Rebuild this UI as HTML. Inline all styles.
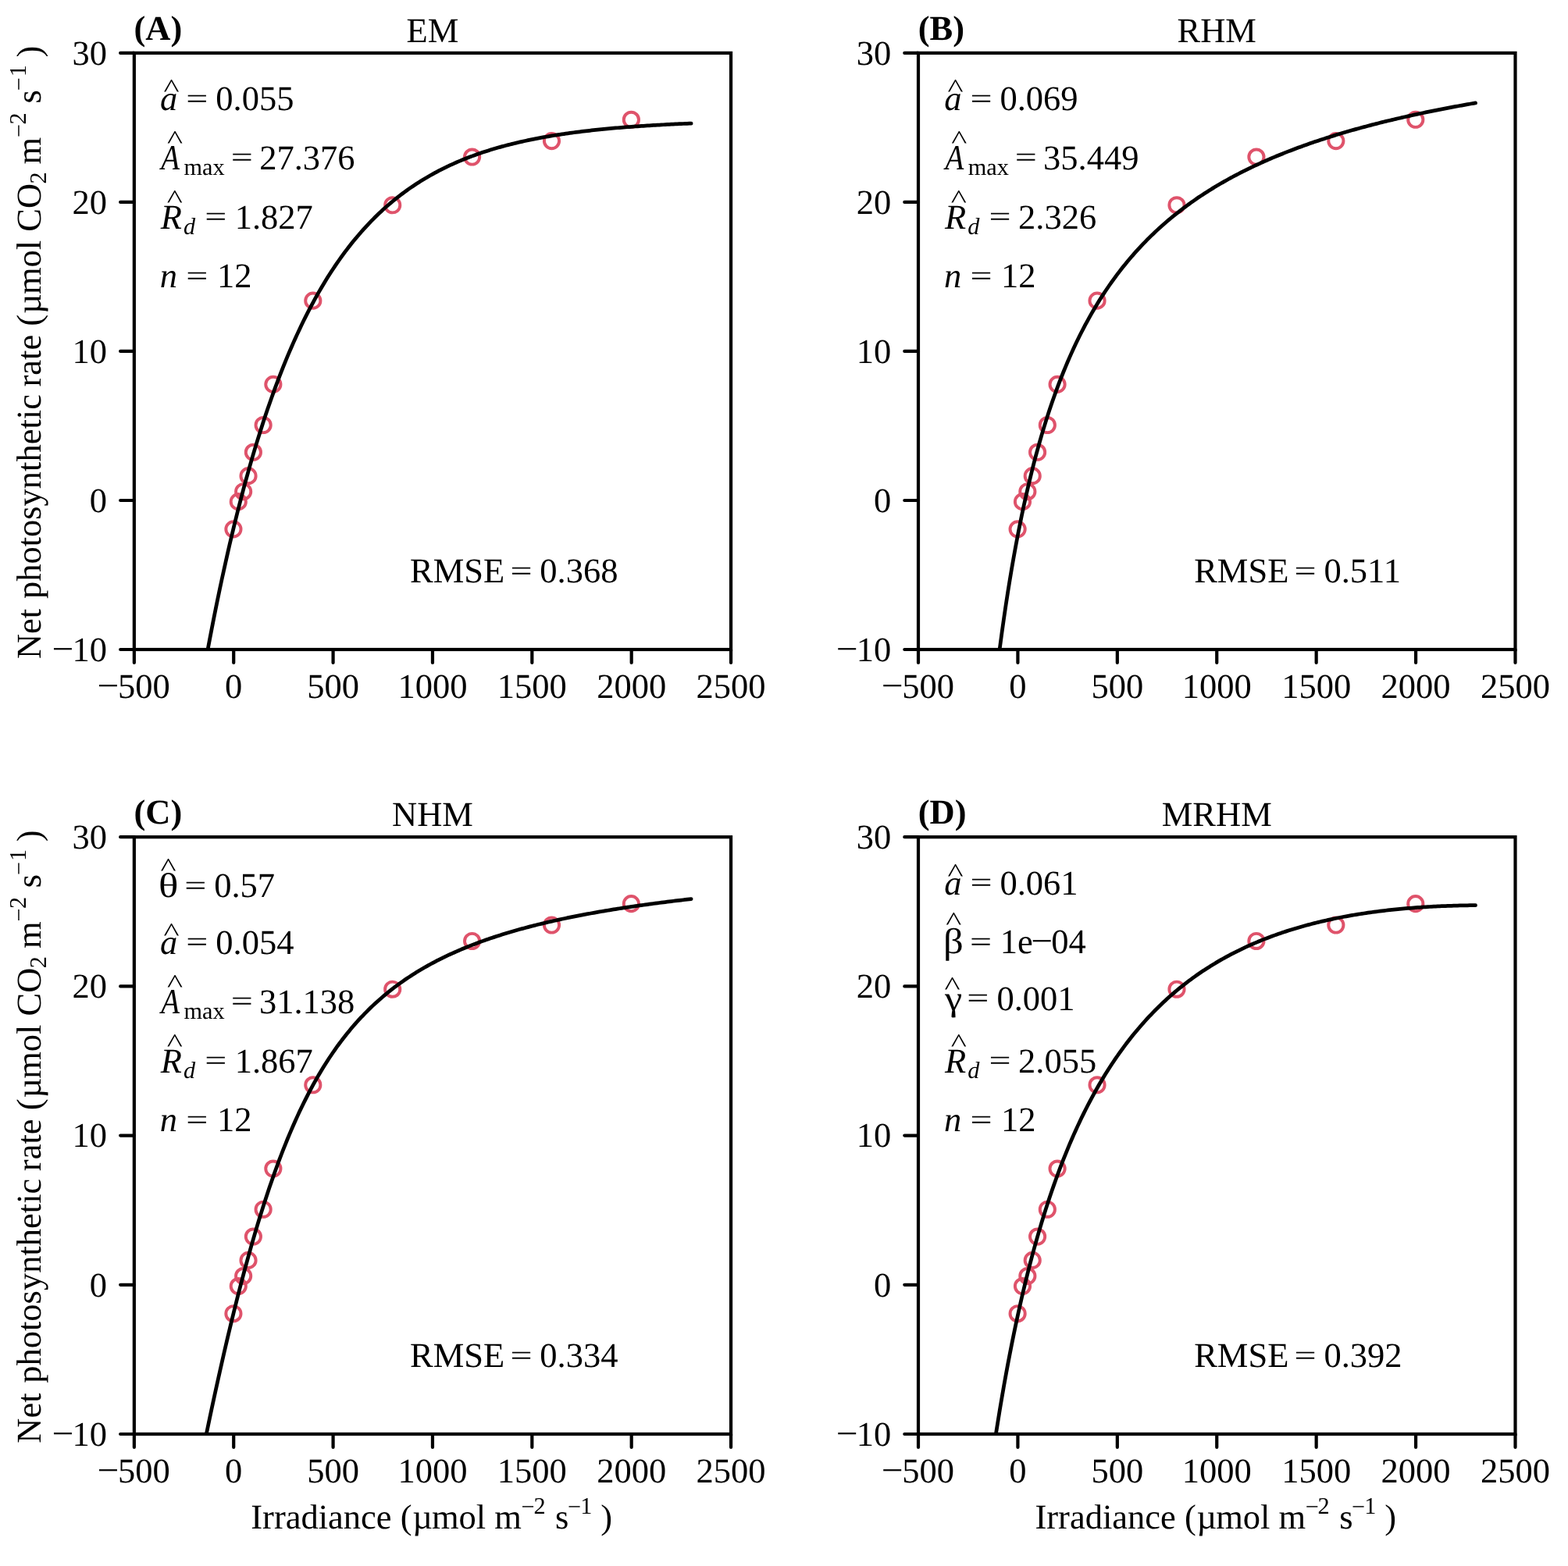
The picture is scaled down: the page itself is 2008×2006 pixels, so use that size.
<!DOCTYPE html>
<html lang="en"><head><meta charset="utf-8"><title>Light response curve models</title>
<style>html,body{margin:0;padding:0;background:#fff}body{width:2008px;height:2006px;overflow:hidden}svg{display:block}
text{font-family:"Liberation Serif","DejaVu Serif",serif;font-size:44.5px;fill:#000;white-space:pre;text-rendering:geometricPrecision}
.i{font-style:italic}.b{font-weight:bold}.s{font-size:30.3px}
.l{fill:none;stroke:#000;stroke-width:4.2}.t{stroke-linecap:round}
.c{fill:none;stroke:#000;stroke-width:4.75;stroke-linejoin:round;stroke-linecap:round}
.p{fill:none;stroke:#DF536B;stroke-width:3.95}
</style></head><body>
<svg role="img" aria-label="Light response curves fitted with four photosynthesis models" width="2008" height="2006" viewBox="0 0 2008 2006">
<rect width="2008" height="2006" fill="#fff"/>
<g>
<clipPath id="clip00"><rect x="171.85" y="67.9" width="764.2" height="764.1"/></clipPath>
<circle class="p" cx="298.92" cy="677.84" r="9.6"/>
<circle class="p" cx="305.28" cy="642.69" r="9.6"/>
<circle class="p" cx="311.65" cy="629.7" r="9.6"/>
<circle class="p" cx="318.02" cy="609.65" r="9.6"/>
<circle class="p" cx="324.39" cy="579.27" r="9.6"/>
<circle class="p" cx="337.13" cy="544.51" r="9.6"/>
<circle class="p" cx="349.86" cy="492.36" r="9.6"/>
<circle class="p" cx="400.81" cy="385.19" r="9.6"/>
<circle class="p" cx="502.7" cy="262.75" r="9.6"/>
<circle class="p" cx="604.6" cy="201.04" r="9.6"/>
<circle class="p" cx="706.49" cy="180.6" r="9.6"/>
<circle class="p" cx="808.38" cy="153.29" r="9.6"/>
<polyline class="c" clip-path="url(#clip00)" points="248.27,934.49 250.82,918.94 253.36,903.71 255.91,888.77 258.46,874.14 261.01,859.79 263.55,845.73 266.1,831.95 268.65,818.45 271.2,805.21 273.74,792.24 276.29,779.52 278.84,767.06 281.39,754.84 283.93,742.87 286.48,731.14 289.03,719.64 291.57,708.36 294.12,697.32 296.67,686.49 299.22,675.88 301.76,665.47 304.31,655.28 306.86,645.29 309.41,635.49 311.95,625.9 314.5,616.49 317.05,607.27 319.6,598.23 322.14,589.37 324.69,580.69 327.24,572.18 329.78,563.85 332.33,555.67 334.88,547.66 337.43,539.81 339.97,532.11 342.52,524.57 345.07,517.18 347.62,509.94 350.16,502.83 352.71,495.87 355.26,489.05 357.81,482.37 360.35,475.82 362.9,469.39 365.45,463.1 367.99,456.93 370.54,450.88 373.09,444.96 375.64,439.15 378.18,433.45 380.73,427.87 383.28,422.41 385.83,417.05 388.37,411.79 390.92,406.64 393.47,401.6 396.02,396.65 398.56,391.8 401.11,387.05 403.66,382.4 406.2,377.83 408.75,373.36 411.3,368.97 413.85,364.68 416.39,360.46 418.94,356.34 421.49,352.29 424.04,348.32 426.58,344.44 429.13,340.63 431.68,336.9 434.23,333.24 436.77,329.65 439.32,326.14 441.87,322.69 444.41,319.31 446.96,316 449.51,312.76 452.06,309.58 454.6,306.47 457.15,303.41 459.7,300.42 462.25,297.48 464.79,294.61 467.34,291.79 469.89,289.03 472.44,286.32 474.98,283.67 477.53,281.07 480.08,278.52 482.62,276.02 485.17,273.57 487.72,271.17 490.27,268.82 492.81,266.52 495.36,264.26 497.91,262.04 500.46,259.87 503,257.74 505.55,255.66 508.1,253.62 510.65,251.61 513.19,249.65 515.74,247.73 518.29,245.84 520.83,243.99 523.38,242.18 525.93,240.41 528.48,238.67 531.02,236.96 533.57,235.29 536.12,233.65 538.67,232.05 541.21,230.47 543.76,228.93 546.31,227.42 548.86,225.94 551.4,224.48 553.95,223.06 556.5,221.67 559.04,220.3 561.59,218.96 564.14,217.64 566.69,216.36 569.23,215.1 571.78,213.86 574.33,212.65 576.88,211.46 579.42,210.3 581.97,209.15 584.52,208.04 587.07,206.94 589.61,205.87 592.16,204.81 594.71,203.78 597.25,202.77 599.8,201.78 602.35,200.81 604.9,199.85 607.44,198.92 609.99,198.01 612.54,197.11 615.09,196.23 617.63,195.37 620.18,194.52 622.73,193.7 625.28,192.89 627.82,192.09 630.37,191.31 632.92,190.55 635.46,189.8 638.01,189.07 640.56,188.35 643.11,187.64 645.65,186.95 648.2,186.28 650.75,185.61 653.3,184.96 655.84,184.33 658.39,183.7 660.94,183.09 663.49,182.49 666.03,181.9 668.58,181.32 671.13,180.76 673.67,180.21 676.22,179.66 678.77,179.13 681.32,178.61 683.86,178.1 686.41,177.6 688.96,177.11 691.51,176.63 694.05,176.16 696.6,175.69 699.15,175.24 701.7,174.8 704.24,174.36 706.79,173.94 709.34,173.52 711.88,173.11 714.43,172.71 716.98,172.31 719.53,171.93 722.07,171.55 724.62,171.18 727.17,170.82 729.72,170.46 732.26,170.11 734.81,169.77 737.36,169.43 739.91,169.11 742.45,168.78 745,168.47 747.55,168.16 750.09,167.86 752.64,167.56 755.19,167.27 757.74,166.98 760.28,166.7 762.83,166.43 765.38,166.16 767.93,165.9 770.47,165.64 773.02,165.39 775.57,165.14 778.12,164.9 780.66,164.66 783.21,164.42 785.76,164.2 788.3,163.97 790.85,163.75 793.4,163.54 795.95,163.33 798.49,163.12 801.04,162.92 803.59,162.72 806.14,162.52 808.68,162.33 811.23,162.14 813.78,161.96 816.33,161.78 818.87,161.61 821.42,161.43 823.97,161.26 826.51,161.1 829.06,160.93 831.61,160.78 834.16,160.62 836.7,160.47 839.25,160.32 841.8,160.17 844.35,160.03 846.89,159.88 849.44,159.75 851.99,159.61 854.54,159.48 857.08,159.35 859.63,159.22 862.18,159.09 864.72,158.97 867.27,158.85 869.82,158.73 872.37,158.62 874.91,158.5 877.46,158.39 880.01,158.28 882.56,158.18 885.1,158.07"/>
<rect class="l" x="171.85" y="67.9" width="764.2" height="764.1"/>
<path class="l t" d="M171.85 832v17M299.22 832v17M426.58 832v17M553.95 832v17M681.32 832v17M808.68 832v17M936.05 832v17M171.85 832h-17.7M171.85 640.98h-17.7M171.85 449.95h-17.7M171.85 258.92h-17.7M171.85 67.9h-17.7"/>
<text transform="translate(124.55 893.3) scale(1.11 1)">−</text>
<text x="151.02" y="893.8">500</text>
<text x="299.22" y="893.8" text-anchor="middle">0</text>
<text x="426.58" y="893.8" text-anchor="middle">500</text>
<text x="553.95" y="893.8" text-anchor="middle">1000</text>
<text x="681.32" y="893.8" text-anchor="middle">1500</text>
<text x="808.68" y="893.8" text-anchor="middle">2000</text>
<text x="936.05" y="893.8" text-anchor="middle">2500</text>
<text transform="translate(66.52 846.2) scale(1.11 1)">−</text>
<text x="137" y="846.7" text-anchor="end">10</text>
<text x="137" y="655.68" text-anchor="end">0</text>
<text x="137" y="464.65" text-anchor="end">10</text>
<text x="137" y="273.62" text-anchor="end">20</text>
<text x="137" y="82.6" text-anchor="end">30</text>
<text x="553.95" y="53.9" text-anchor="middle">EM</text>
<text x="171.55" y="51.1" class="b">(A)</text>
<text x="205.07" y="141.21" class="i">a</text>
<text transform="translate(209.4 124.46) scale(0.961 0.76)">^</text>
<text transform="translate(238.31 137.65) scale(1.12 0.8)">=</text>
<text x="276.31" y="141.21">0.055</text>
<text class="i" transform="translate(206.25 216.82) scale(0.875 1.02)">A</text>
<text transform="translate(214 190.07) scale(0.961 0.76)">^</text>
<text x="235.5" y="223.82" class="s">max</text>
<text transform="translate(295.71 213.26) scale(1.12 0.8)">=</text>
<text x="332.14" y="216.82">27.376</text>
<text x="205.8" y="292.93" class="i">R</text>
<text transform="translate(213.7 266.38) scale(0.961 0.76)">^</text>
<text x="235" y="299.93" class="s i">d</text>
<text transform="translate(262.31 289.37) scale(1.12 0.8)">=</text>
<text x="300.68" y="292.93">1.827</text>
<text x="204.8" y="368.14" class="i">n</text>
<text transform="translate(238.31 364.58) scale(1.12 0.8)">=</text>
<text x="277.88" y="368.14">12</text>
<text x="525" y="746.1">RMSE</text>
<text transform="translate(653.41 742.55) scale(1.12 0.8)">=</text>
<text x="691.31" y="746.1">0.368</text>
<g transform="translate(52 844.1) rotate(-90)">
<text x="0" y="0">Net</text>
<text x="77" y="0">photosynthetic</text>
<text x="348.6" y="0">rate (</text>
<text x="442.2" y="0">µ</text>
<text x="467" y="0">mol CO</text>
<text x="608.5" y="7" class="s">2</text>
<text x="633.7" y="0">m</text>
<text x="668.2" y="-18.1" class="s">−</text>
<text x="684.7" y="-18.9" class="s">2</text>
<text x="711.5" y="0">s</text>
<text x="727.8" y="-18.1" class="s">−</text>
<text x="745.8" y="-18.9" class="s">1</text>
<text x="770.5" y="0">)</text>
</g>
</g>
<g>
<clipPath id="clip10"><rect x="1176" y="67.9" width="764.5" height="764.1"/></clipPath>
<circle class="p" cx="1303.12" cy="677.84" r="9.6"/>
<circle class="p" cx="1309.49" cy="642.69" r="9.6"/>
<circle class="p" cx="1315.86" cy="629.7" r="9.6"/>
<circle class="p" cx="1322.23" cy="609.65" r="9.6"/>
<circle class="p" cx="1328.6" cy="579.27" r="9.6"/>
<circle class="p" cx="1341.34" cy="544.51" r="9.6"/>
<circle class="p" cx="1354.08" cy="492.36" r="9.6"/>
<circle class="p" cx="1405.05" cy="385.19" r="9.6"/>
<circle class="p" cx="1506.98" cy="262.75" r="9.6"/>
<circle class="p" cx="1608.92" cy="201.04" r="9.6"/>
<circle class="p" cx="1710.85" cy="180.6" r="9.6"/>
<circle class="p" cx="1812.78" cy="153.29" r="9.6"/>
<polyline class="c" clip-path="url(#clip10)" points="1252.45,1117.06 1255,1082.81 1257.55,1050.62 1260.1,1020.29 1262.64,991.68 1265.19,964.65 1267.74,939.06 1270.29,914.8 1272.84,891.78 1275.38,869.9 1277.93,849.07 1280.48,829.23 1283.03,810.3 1285.58,792.23 1288.13,774.95 1290.67,758.42 1293.22,742.58 1295.77,727.4 1298.32,712.84 1300.87,698.85 1303.42,685.41 1305.96,672.48 1308.51,660.03 1311.06,648.05 1313.61,636.49 1316.16,625.35 1318.71,614.59 1321.26,604.21 1323.8,594.17 1326.35,584.46 1328.9,575.08 1331.45,565.99 1334,557.19 1336.55,548.66 1339.09,540.39 1341.64,532.38 1344.19,524.6 1346.74,517.05 1349.29,509.71 1351.84,502.59 1354.38,495.66 1356.93,488.93 1359.48,482.37 1362.03,476 1364.58,469.79 1367.12,463.75 1369.67,457.86 1372.22,452.13 1374.77,446.53 1377.32,441.08 1379.87,435.76 1382.41,430.57 1384.96,425.51 1387.51,420.56 1390.06,415.73 1392.61,411.01 1395.16,406.41 1397.7,401.9 1400.25,397.5 1402.8,393.19 1405.35,388.98 1407.9,384.85 1410.45,380.82 1412.99,376.87 1415.54,373.01 1418.09,369.22 1420.64,365.52 1423.19,361.88 1425.74,358.33 1428.29,354.84 1430.83,351.42 1433.38,348.07 1435.93,344.78 1438.48,341.56 1441.03,338.39 1443.58,335.29 1446.12,332.24 1448.67,329.25 1451.22,326.32 1453.77,323.44 1456.32,320.61 1458.87,317.83 1461.41,315.1 1463.96,312.41 1466.51,309.78 1469.06,307.19 1471.61,304.64 1474.15,302.13 1476.7,299.67 1479.25,297.25 1481.8,294.87 1484.35,292.53 1486.9,290.22 1489.44,287.96 1491.99,285.73 1494.54,283.53 1497.09,281.37 1499.64,279.24 1502.19,277.15 1504.74,275.08 1507.28,273.05 1509.83,271.05 1512.38,269.08 1514.93,267.14 1517.48,265.23 1520.03,263.34 1522.57,261.49 1525.12,259.66 1527.67,257.85 1530.22,256.08 1532.77,254.32 1535.32,252.59 1537.86,250.89 1540.41,249.21 1542.96,247.55 1545.51,245.92 1548.06,244.3 1550.61,242.71 1553.15,241.14 1555.7,239.59 1558.25,238.07 1560.8,236.56 1563.35,235.07 1565.89,233.6 1568.44,232.15 1570.99,230.72 1573.54,229.3 1576.09,227.91 1578.64,226.53 1581.18,225.17 1583.73,223.82 1586.28,222.5 1588.83,221.19 1591.38,219.89 1593.93,218.61 1596.47,217.35 1599.02,216.1 1601.57,214.86 1604.12,213.64 1606.67,212.44 1609.22,211.25 1611.76,210.07 1614.31,208.9 1616.86,207.75 1619.41,206.61 1621.96,205.49 1624.51,204.38 1627.05,203.28 1629.6,202.19 1632.15,201.12 1634.7,200.05 1637.25,199 1639.8,197.96 1642.35,196.93 1644.89,195.91 1647.44,194.91 1649.99,193.91 1652.54,192.93 1655.09,191.95 1657.63,190.98 1660.18,190.03 1662.73,189.09 1665.28,188.15 1667.83,187.22 1670.38,186.31 1672.92,185.4 1675.47,184.5 1678.02,183.62 1680.57,182.74 1683.12,181.86 1685.67,181 1688.22,180.15 1690.76,179.3 1693.31,178.47 1695.86,177.64 1698.41,176.82 1700.96,176 1703.51,175.2 1706.05,174.4 1708.6,173.61 1711.15,172.83 1713.7,172.05 1716.25,171.29 1718.8,170.53 1721.34,169.77 1723.89,169.03 1726.44,168.29 1728.99,167.55 1731.54,166.83 1734.09,166.11 1736.63,165.39 1739.18,164.69 1741.73,163.99 1744.28,163.29 1746.83,162.61 1749.38,161.92 1751.92,161.25 1754.47,160.58 1757.02,159.91 1759.57,159.26 1762.12,158.6 1764.66,157.96 1767.21,157.31 1769.76,156.68 1772.31,156.05 1774.86,155.42 1777.41,154.8 1779.95,154.19 1782.5,153.58 1785.05,152.97 1787.6,152.37 1790.15,151.78 1792.7,151.19 1795.24,150.6 1797.79,150.02 1800.34,149.45 1802.89,148.88 1805.44,148.31 1807.99,147.75 1810.53,147.19 1813.08,146.64 1815.63,146.09 1818.18,145.55 1820.73,145.01 1823.28,144.47 1825.82,143.94 1828.37,143.41 1830.92,142.89 1833.47,142.37 1836.02,141.86 1838.57,141.34 1841.12,140.84 1843.66,140.33 1846.21,139.83 1848.76,139.34 1851.31,138.85 1853.86,138.36 1856.4,137.87 1858.95,137.39 1861.5,136.91 1864.05,136.44 1866.6,135.97 1869.15,135.5 1871.7,135.04 1874.24,134.58 1876.79,134.12 1879.34,133.67 1881.89,133.22 1884.44,132.77 1886.99,132.33 1889.53,131.88"/>
<rect class="l" x="1176" y="67.9" width="764.5" height="764.1"/>
<path class="l t" d="M1176 832v17M1303.42 832v17M1430.83 832v17M1558.25 832v17M1685.67 832v17M1813.08 832v17M1940.5 832v17M1176 832h-17.7M1176 640.98h-17.7M1176 449.95h-17.7M1176 258.92h-17.7M1176 67.9h-17.7"/>
<text transform="translate(1128.7 893.3) scale(1.11 1)">−</text>
<text x="1155.17" y="893.8">500</text>
<text x="1303.42" y="893.8" text-anchor="middle">0</text>
<text x="1430.83" y="893.8" text-anchor="middle">500</text>
<text x="1558.25" y="893.8" text-anchor="middle">1000</text>
<text x="1685.67" y="893.8" text-anchor="middle">1500</text>
<text x="1813.08" y="893.8" text-anchor="middle">2000</text>
<text x="1940.5" y="893.8" text-anchor="middle">2500</text>
<text transform="translate(1070.67 846.2) scale(1.11 1)">−</text>
<text x="1141.15" y="846.7" text-anchor="end">10</text>
<text x="1141.15" y="655.68" text-anchor="end">0</text>
<text x="1141.15" y="464.65" text-anchor="end">10</text>
<text x="1141.15" y="273.62" text-anchor="end">20</text>
<text x="1141.15" y="82.6" text-anchor="end">30</text>
<text x="1558.25" y="53.9" text-anchor="middle">RHM</text>
<text x="1175.7" y="51.1" class="b">(B)</text>
<text x="1209.22" y="141.21" class="i">a</text>
<text transform="translate(1213.55 124.46) scale(0.961 0.76)">^</text>
<text transform="translate(1242.46 137.65) scale(1.12 0.8)">=</text>
<text x="1280.46" y="141.21">0.069</text>
<text class="i" transform="translate(1210.4 216.82) scale(0.875 1.02)">A</text>
<text transform="translate(1218.15 190.07) scale(0.961 0.76)">^</text>
<text x="1239.65" y="223.82" class="s">max</text>
<text transform="translate(1299.86 213.26) scale(1.12 0.8)">=</text>
<text x="1336.11" y="216.82">35.449</text>
<text x="1209.95" y="292.93" class="i">R</text>
<text transform="translate(1217.85 266.38) scale(0.961 0.76)">^</text>
<text x="1239.15" y="299.93" class="s i">d</text>
<text transform="translate(1266.46 289.37) scale(1.12 0.8)">=</text>
<text x="1304.09" y="292.93">2.326</text>
<text x="1208.95" y="368.14" class="i">n</text>
<text transform="translate(1242.46 364.58) scale(1.12 0.8)">=</text>
<text x="1282.03" y="368.14">12</text>
<text x="1529.15" y="746.1">RMSE</text>
<text transform="translate(1657.56 742.55) scale(1.12 0.8)">=</text>
<text x="1695.46" y="746.1">0.511</text>
</g>
<g>
<clipPath id="clip01"><rect x="171.85" y="1072.2" width="764.2" height="764.8"/></clipPath>
<circle class="p" cx="298.92" cy="1682.7" r="9.6"/>
<circle class="p" cx="305.28" cy="1647.52" r="9.6"/>
<circle class="p" cx="311.65" cy="1634.52" r="9.6"/>
<circle class="p" cx="318.02" cy="1614.44" r="9.6"/>
<circle class="p" cx="324.39" cy="1584.04" r="9.6"/>
<circle class="p" cx="337.13" cy="1549.24" r="9.6"/>
<circle class="p" cx="349.86" cy="1497.05" r="9.6"/>
<circle class="p" cx="400.81" cy="1389.78" r="9.6"/>
<circle class="p" cx="502.7" cy="1267.22" r="9.6"/>
<circle class="p" cx="604.6" cy="1205.47" r="9.6"/>
<circle class="p" cx="706.49" cy="1185.01" r="9.6"/>
<circle class="p" cx="808.38" cy="1157.67" r="9.6"/>
<polyline class="c" clip-path="url(#clip01)" points="248.27,1916.62 250.82,1903.62 253.36,1890.74 255.91,1877.98 258.46,1865.35 261.01,1852.83 263.55,1840.45 266.1,1828.19 268.65,1816.06 271.2,1804.07 273.74,1792.21 276.29,1780.49 278.84,1768.91 281.39,1757.47 283.93,1746.17 286.48,1735.02 289.03,1724.01 291.57,1713.16 294.12,1702.45 296.67,1691.9 299.22,1681.5 301.76,1671.25 304.31,1661.16 306.86,1651.22 309.41,1641.44 311.95,1631.82 314.5,1622.35 317.05,1613.05 319.6,1603.9 322.14,1594.91 324.69,1586.08 327.24,1577.41 329.78,1568.89 332.33,1560.54 334.88,1552.34 337.43,1544.29 339.97,1536.4 342.52,1528.67 345.07,1521.09 347.62,1513.66 350.16,1506.38 352.71,1499.25 355.26,1492.27 357.81,1485.43 360.35,1478.73 362.9,1472.18 365.45,1465.77 367.99,1459.49 370.54,1453.35 373.09,1447.35 375.64,1441.47 378.18,1435.73 380.73,1430.11 383.28,1424.61 385.83,1419.24 388.37,1413.99 390.92,1408.85 393.47,1403.83 396.02,1398.92 398.56,1394.13 401.11,1389.44 403.66,1384.85 406.2,1380.37 408.75,1375.99 411.3,1371.71 413.85,1367.52 416.39,1363.43 418.94,1359.43 421.49,1355.52 424.04,1351.7 426.58,1347.96 429.13,1344.31 431.68,1340.73 434.23,1337.24 436.77,1333.82 439.32,1330.48 441.87,1327.21 444.41,1324.01 446.96,1320.88 449.51,1317.82 452.06,1314.82 454.6,1311.89 457.15,1309.02 459.7,1306.21 462.25,1303.47 464.79,1300.77 467.34,1298.14 469.89,1295.56 472.44,1293.04 474.98,1290.56 477.53,1288.14 480.08,1285.76 482.62,1283.44 485.17,1281.16 487.72,1278.93 490.27,1276.74 492.81,1274.59 495.36,1272.49 497.91,1270.43 500.46,1268.41 503,1266.43 505.55,1264.48 508.1,1262.57 510.65,1260.7 513.19,1258.87 515.74,1257.07 518.29,1255.3 520.83,1253.56 523.38,1251.86 525.93,1250.19 528.48,1248.55 531.02,1246.94 533.57,1245.35 536.12,1243.8 538.67,1242.27 541.21,1240.77 543.76,1239.3 546.31,1237.85 548.86,1236.43 551.4,1235.03 553.95,1233.65 556.5,1232.3 559.04,1230.97 561.59,1229.67 564.14,1228.38 566.69,1227.12 569.23,1225.87 571.78,1224.65 574.33,1223.45 576.88,1222.27 579.42,1221.1 581.97,1219.96 584.52,1218.83 587.07,1217.72 589.61,1216.62 592.16,1215.55 594.71,1214.49 597.25,1213.45 599.8,1212.42 602.35,1211.41 604.9,1210.41 607.44,1209.43 609.99,1208.46 612.54,1207.51 615.09,1206.57 617.63,1205.64 620.18,1204.73 622.73,1203.83 625.28,1202.95 627.82,1202.08 630.37,1201.21 632.92,1200.37 635.46,1199.53 638.01,1198.7 640.56,1197.89 643.11,1197.09 645.65,1196.3 648.2,1195.51 650.75,1194.74 653.3,1193.98 655.84,1193.23 658.39,1192.49 660.94,1191.76 663.49,1191.04 666.03,1190.33 668.58,1189.63 671.13,1188.94 673.67,1188.25 676.22,1187.58 678.77,1186.91 681.32,1186.25 683.86,1185.6 686.41,1184.96 688.96,1184.32 691.51,1183.7 694.05,1183.08 696.6,1182.47 699.15,1181.86 701.7,1181.27 704.24,1180.68 706.79,1180.1 709.34,1179.52 711.88,1178.95 714.43,1178.39 716.98,1177.83 719.53,1177.28 722.07,1176.74 724.62,1176.21 727.17,1175.68 729.72,1175.15 732.26,1174.63 734.81,1174.12 737.36,1173.61 739.91,1173.11 742.45,1172.62 745,1172.13 747.55,1171.64 750.09,1171.16 752.64,1170.69 755.19,1170.22 757.74,1169.76 760.28,1169.3 762.83,1168.84 765.38,1168.39 767.93,1167.95 770.47,1167.51 773.02,1167.07 775.57,1166.64 778.12,1166.22 780.66,1165.79 783.21,1165.38 785.76,1164.96 788.3,1164.55 790.85,1164.15 793.4,1163.75 795.95,1163.35 798.49,1162.96 801.04,1162.57 803.59,1162.18 806.14,1161.8 808.68,1161.42 811.23,1161.05 813.78,1160.68 816.33,1160.31 818.87,1159.95 821.42,1159.59 823.97,1159.23 826.51,1158.88 829.06,1158.53 831.61,1158.18 834.16,1157.84 836.7,1157.5 839.25,1157.16 841.8,1156.83 844.35,1156.5 846.89,1156.17 849.44,1155.84 851.99,1155.52 854.54,1155.2 857.08,1154.89 859.63,1154.57 862.18,1154.26 864.72,1153.96 867.27,1153.65 869.82,1153.35 872.37,1153.05 874.91,1152.75 877.46,1152.46 880.01,1152.17 882.56,1151.88 885.1,1151.59"/>
<rect class="l" x="171.85" y="1072.2" width="764.2" height="764.8"/>
<path class="l t" d="M171.85 1837v17M299.22 1837v17M426.58 1837v17M553.95 1837v17M681.32 1837v17M808.68 1837v17M936.05 1837v17M171.85 1837h-17.7M171.85 1645.8h-17.7M171.85 1454.6h-17.7M171.85 1263.4h-17.7M171.85 1072.2h-17.7"/>
<text transform="translate(124.55 1898.3) scale(1.11 1)">−</text>
<text x="151.02" y="1898.8">500</text>
<text x="299.22" y="1898.8" text-anchor="middle">0</text>
<text x="426.58" y="1898.8" text-anchor="middle">500</text>
<text x="553.95" y="1898.8" text-anchor="middle">1000</text>
<text x="681.32" y="1898.8" text-anchor="middle">1500</text>
<text x="808.68" y="1898.8" text-anchor="middle">2000</text>
<text x="936.05" y="1898.8" text-anchor="middle">2500</text>
<text transform="translate(66.52 1851.2) scale(1.11 1)">−</text>
<text x="137" y="1851.7" text-anchor="end">10</text>
<text x="137" y="1660.5" text-anchor="end">0</text>
<text x="137" y="1469.3" text-anchor="end">10</text>
<text x="137" y="1278.1" text-anchor="end">20</text>
<text x="137" y="1086.9" text-anchor="end">30</text>
<text x="553.95" y="1058.2" text-anchor="middle">NHM</text>
<text x="171.55" y="1055.4" class="b">(C)</text>
<text transform="translate(202.91 1149.46) scale(1.19 1)">θ</text>
<text transform="translate(205.4 1121.51) scale(0.961 0.76)">^</text>
<text transform="translate(236.31 1145.91) scale(1.12 0.8)">=</text>
<text x="274.21" y="1149.46">0.57</text>
<text x="205.07" y="1222.04" class="i">a</text>
<text transform="translate(209.4 1205.29) scale(0.961 0.76)">^</text>
<text transform="translate(238.31 1218.49) scale(1.12 0.8)">=</text>
<text x="276.31" y="1222.04">0.054</text>
<text class="i" transform="translate(206.25 1297.72) scale(0.875 1.02)">A</text>
<text transform="translate(214 1270.97) scale(0.961 0.76)">^</text>
<text x="235.5" y="1304.72" class="s">max</text>
<text transform="translate(295.71 1294.17) scale(1.12 0.8)">=</text>
<text x="331.96" y="1297.72">31.138</text>
<text x="205.8" y="1373.9" class="i">R</text>
<text transform="translate(213.7 1347.35) scale(0.961 0.76)">^</text>
<text x="235" y="1380.9" class="s i">d</text>
<text transform="translate(262.31 1370.35) scale(1.12 0.8)">=</text>
<text x="300.68" y="1373.9">1.867</text>
<text x="204.8" y="1449.18" class="i">n</text>
<text transform="translate(238.31 1445.63) scale(1.12 0.8)">=</text>
<text x="277.88" y="1449.18">12</text>
<text x="525" y="1751.1">RMSE</text>
<text transform="translate(653.41 1747.55) scale(1.12 0.8)">=</text>
<text x="691.31" y="1751.1">0.334</text>
<text x="321.3" y="1957.9">Irradiance (</text>
<text x="528.3" y="1957.9">µ</text>
<text x="553" y="1957.9">mol m</text>
<text x="667.6" y="1939.7" class="s">−</text>
<text x="683.4" y="1938.9" class="s">2</text>
<text x="711" y="1957.9">s</text>
<text x="726.9" y="1939.7" class="s">−</text>
<text x="743.2" y="1938.9" class="s">1</text>
<text x="769.2" y="1957.9">)</text>
<g transform="translate(52 1848.75) rotate(-90)">
<text x="0" y="0">Net</text>
<text x="77" y="0">photosynthetic</text>
<text x="348.6" y="0">rate (</text>
<text x="442.2" y="0">µ</text>
<text x="467" y="0">mol CO</text>
<text x="608.5" y="7" class="s">2</text>
<text x="633.7" y="0">m</text>
<text x="668.2" y="-18.1" class="s">−</text>
<text x="684.7" y="-18.9" class="s">2</text>
<text x="711.5" y="0">s</text>
<text x="727.8" y="-18.1" class="s">−</text>
<text x="745.8" y="-18.9" class="s">1</text>
<text x="770.5" y="0">)</text>
</g>
</g>
<g>
<clipPath id="clip11"><rect x="1176" y="1072.2" width="764.5" height="764.8"/></clipPath>
<circle class="p" cx="1303.12" cy="1682.7" r="9.6"/>
<circle class="p" cx="1309.49" cy="1647.52" r="9.6"/>
<circle class="p" cx="1315.86" cy="1634.52" r="9.6"/>
<circle class="p" cx="1322.23" cy="1614.44" r="9.6"/>
<circle class="p" cx="1328.6" cy="1584.04" r="9.6"/>
<circle class="p" cx="1341.34" cy="1549.24" r="9.6"/>
<circle class="p" cx="1354.08" cy="1497.05" r="9.6"/>
<circle class="p" cx="1405.05" cy="1389.78" r="9.6"/>
<circle class="p" cx="1506.98" cy="1267.22" r="9.6"/>
<circle class="p" cx="1608.92" cy="1205.47" r="9.6"/>
<circle class="p" cx="1710.85" cy="1185.01" r="9.6"/>
<circle class="p" cx="1812.78" cy="1157.67" r="9.6"/>
<polyline class="c" clip-path="url(#clip11)" points="1252.45,2010.7 1255,1988.44 1257.55,1967.02 1260.1,1946.38 1262.64,1926.48 1265.19,1907.3 1267.74,1888.79 1270.29,1870.91 1272.84,1853.64 1275.38,1836.95 1277.93,1820.82 1280.48,1805.2 1283.03,1790.09 1285.58,1775.45 1288.13,1761.27 1290.67,1747.53 1293.22,1734.2 1295.77,1721.28 1298.32,1708.73 1300.87,1696.56 1303.42,1684.73 1305.96,1673.25 1308.51,1662.08 1311.06,1651.23 1313.61,1640.68 1316.16,1630.42 1318.71,1620.43 1321.26,1610.71 1323.8,1601.25 1326.35,1592.03 1328.9,1583.05 1331.45,1574.3 1334,1565.78 1336.55,1557.46 1339.09,1549.36 1341.64,1541.45 1344.19,1533.74 1346.74,1526.21 1349.29,1518.87 1351.84,1511.69 1354.38,1504.69 1356.93,1497.85 1359.48,1491.17 1362.03,1484.65 1364.58,1478.27 1367.12,1472.03 1369.67,1465.94 1372.22,1459.98 1374.77,1454.15 1377.32,1448.45 1379.87,1442.88 1382.41,1437.42 1384.96,1432.08 1387.51,1426.86 1390.06,1421.75 1392.61,1416.74 1395.16,1411.84 1397.7,1407.04 1400.25,1402.34 1402.8,1397.73 1405.35,1393.22 1407.9,1388.8 1410.45,1384.47 1412.99,1380.22 1415.54,1376.06 1418.09,1371.98 1420.64,1367.99 1423.19,1364.07 1425.74,1360.22 1428.29,1356.45 1430.83,1352.76 1433.38,1349.13 1435.93,1345.57 1438.48,1342.09 1441.03,1338.66 1443.58,1335.3 1446.12,1332.01 1448.67,1328.77 1451.22,1325.6 1453.77,1322.48 1456.32,1319.42 1458.87,1316.42 1461.41,1313.47 1463.96,1310.57 1466.51,1307.73 1469.06,1304.94 1471.61,1302.2 1474.15,1299.51 1476.7,1296.86 1479.25,1294.27 1481.8,1291.72 1484.35,1289.21 1486.9,1286.75 1489.44,1284.33 1491.99,1281.95 1494.54,1279.62 1497.09,1277.33 1499.64,1275.07 1502.19,1272.86 1504.74,1270.68 1507.28,1268.54 1509.83,1266.44 1512.38,1264.37 1514.93,1262.34 1517.48,1260.35 1520.03,1258.38 1522.57,1256.46 1525.12,1254.56 1527.67,1252.7 1530.22,1250.86 1532.77,1249.06 1535.32,1247.29 1537.86,1245.55 1540.41,1243.84 1542.96,1242.16 1545.51,1240.5 1548.06,1238.88 1550.61,1237.28 1553.15,1235.71 1555.7,1234.16 1558.25,1232.64 1560.8,1231.15 1563.35,1229.68 1565.89,1228.23 1568.44,1226.81 1570.99,1225.41 1573.54,1224.04 1576.09,1222.69 1578.64,1221.36 1581.18,1220.06 1583.73,1218.77 1586.28,1217.51 1588.83,1216.27 1591.38,1215.05 1593.93,1213.85 1596.47,1212.67 1599.02,1211.51 1601.57,1210.37 1604.12,1209.25 1606.67,1208.15 1609.22,1207.07 1611.76,1206 1614.31,1204.95 1616.86,1203.92 1619.41,1202.91 1621.96,1201.92 1624.51,1200.94 1627.05,1199.98 1629.6,1199.04 1632.15,1198.11 1634.7,1197.2 1637.25,1196.3 1639.8,1195.42 1642.35,1194.56 1644.89,1193.71 1647.44,1192.87 1649.99,1192.05 1652.54,1191.24 1655.09,1190.45 1657.63,1189.67 1660.18,1188.91 1662.73,1188.16 1665.28,1187.42 1667.83,1186.7 1670.38,1185.99 1672.92,1185.29 1675.47,1184.61 1678.02,1183.93 1680.57,1183.27 1683.12,1182.63 1685.67,1181.99 1688.22,1181.37 1690.76,1180.76 1693.31,1180.15 1695.86,1179.57 1698.41,1178.99 1700.96,1178.42 1703.51,1177.87 1706.05,1177.32 1708.6,1176.79 1711.15,1176.26 1713.7,1175.75 1716.25,1175.25 1718.8,1174.76 1721.34,1174.27 1723.89,1173.8 1726.44,1173.34 1728.99,1172.89 1731.54,1172.44 1734.09,1172.01 1736.63,1171.58 1739.18,1171.17 1741.73,1170.76 1744.28,1170.36 1746.83,1169.98 1749.38,1169.6 1751.92,1169.22 1754.47,1168.86 1757.02,1168.51 1759.57,1168.16 1762.12,1167.82 1764.66,1167.49 1767.21,1167.17 1769.76,1166.86 1772.31,1166.55 1774.86,1166.26 1777.41,1165.97 1779.95,1165.68 1782.5,1165.41 1785.05,1165.14 1787.6,1164.88 1790.15,1164.63 1792.7,1164.38 1795.24,1164.14 1797.79,1163.91 1800.34,1163.69 1802.89,1163.47 1805.44,1163.26 1807.99,1163.05 1810.53,1162.86 1813.08,1162.66 1815.63,1162.48 1818.18,1162.3 1820.73,1162.13 1823.28,1161.96 1825.82,1161.8 1828.37,1161.65 1830.92,1161.5 1833.47,1161.36 1836.02,1161.23 1838.57,1161.1 1841.12,1160.97 1843.66,1160.86 1846.21,1160.74 1848.76,1160.64 1851.31,1160.54 1853.86,1160.44 1856.4,1160.35 1858.95,1160.27 1861.5,1160.19 1864.05,1160.11 1866.6,1160.05 1869.15,1159.98 1871.7,1159.92 1874.24,1159.87 1876.79,1159.82 1879.34,1159.78 1881.89,1159.74 1884.44,1159.71 1886.99,1159.68 1889.53,1159.66"/>
<rect class="l" x="1176" y="1072.2" width="764.5" height="764.8"/>
<path class="l t" d="M1176 1837v17M1303.42 1837v17M1430.83 1837v17M1558.25 1837v17M1685.67 1837v17M1813.08 1837v17M1940.5 1837v17M1176 1837h-17.7M1176 1645.8h-17.7M1176 1454.6h-17.7M1176 1263.4h-17.7M1176 1072.2h-17.7"/>
<text transform="translate(1128.7 1898.3) scale(1.11 1)">−</text>
<text x="1155.17" y="1898.8">500</text>
<text x="1303.42" y="1898.8" text-anchor="middle">0</text>
<text x="1430.83" y="1898.8" text-anchor="middle">500</text>
<text x="1558.25" y="1898.8" text-anchor="middle">1000</text>
<text x="1685.67" y="1898.8" text-anchor="middle">1500</text>
<text x="1813.08" y="1898.8" text-anchor="middle">2000</text>
<text x="1940.5" y="1898.8" text-anchor="middle">2500</text>
<text transform="translate(1070.67 1851.2) scale(1.11 1)">−</text>
<text x="1141.15" y="1851.7" text-anchor="end">10</text>
<text x="1141.15" y="1660.5" text-anchor="end">0</text>
<text x="1141.15" y="1469.3" text-anchor="end">10</text>
<text x="1141.15" y="1278.1" text-anchor="end">20</text>
<text x="1141.15" y="1086.9" text-anchor="end">30</text>
<text x="1558.25" y="1058.2" text-anchor="middle">MRHM</text>
<text x="1175.7" y="1055.4" class="b">(D)</text>
<text x="1209.22" y="1145.56" class="i">a</text>
<text transform="translate(1213.55 1128.81) scale(0.961 0.76)">^</text>
<text transform="translate(1242.46 1142.01) scale(1.12 0.8)">=</text>
<text x="1280.46" y="1145.56">0.061</text>
<text transform="translate(1207.9 1221.24) scale(1.14 1.03)">β</text>
<text transform="translate(1211.3 1190.59) scale(0.961 0.76)">^</text>
<text transform="translate(1242.06 1217.69) scale(1.12 0.8)">=</text>
<text x="1280.75" y="1221.24">1e</text>
<text transform="translate(1320.37 1220.24) scale(1.11 1)">−</text>
<text x="1346.35" y="1221.24">04</text>
<text transform="translate(1209.9 1293.72) scale(1.13 1)">γ</text>
<text transform="translate(1209.55 1274.47) scale(0.961 0.76)">^</text>
<text transform="translate(1238.36 1290.17) scale(1.12 0.8)">=</text>
<text x="1276.46" y="1293.72">0.001</text>
<text x="1209.95" y="1373.9" class="i">R</text>
<text transform="translate(1217.85 1347.35) scale(0.961 0.76)">^</text>
<text x="1239.15" y="1380.9" class="s i">d</text>
<text transform="translate(1266.46 1370.35) scale(1.12 0.8)">=</text>
<text x="1304.09" y="1373.9">2.055</text>
<text x="1208.95" y="1449.18" class="i">n</text>
<text transform="translate(1242.46 1445.63) scale(1.12 0.8)">=</text>
<text x="1282.03" y="1449.18">12</text>
<text x="1529.15" y="1751.1">RMSE</text>
<text transform="translate(1657.56 1747.55) scale(1.12 0.8)">=</text>
<text x="1695.46" y="1751.1">0.392</text>
<text x="1325.45" y="1957.9">Irradiance (</text>
<text x="1532.45" y="1957.9">µ</text>
<text x="1557.15" y="1957.9">mol m</text>
<text x="1671.75" y="1939.7" class="s">−</text>
<text x="1687.55" y="1938.9" class="s">2</text>
<text x="1715.15" y="1957.9">s</text>
<text x="1731.05" y="1939.7" class="s">−</text>
<text x="1747.35" y="1938.9" class="s">1</text>
<text x="1773.35" y="1957.9">)</text>
</g>
</svg></body></html>
